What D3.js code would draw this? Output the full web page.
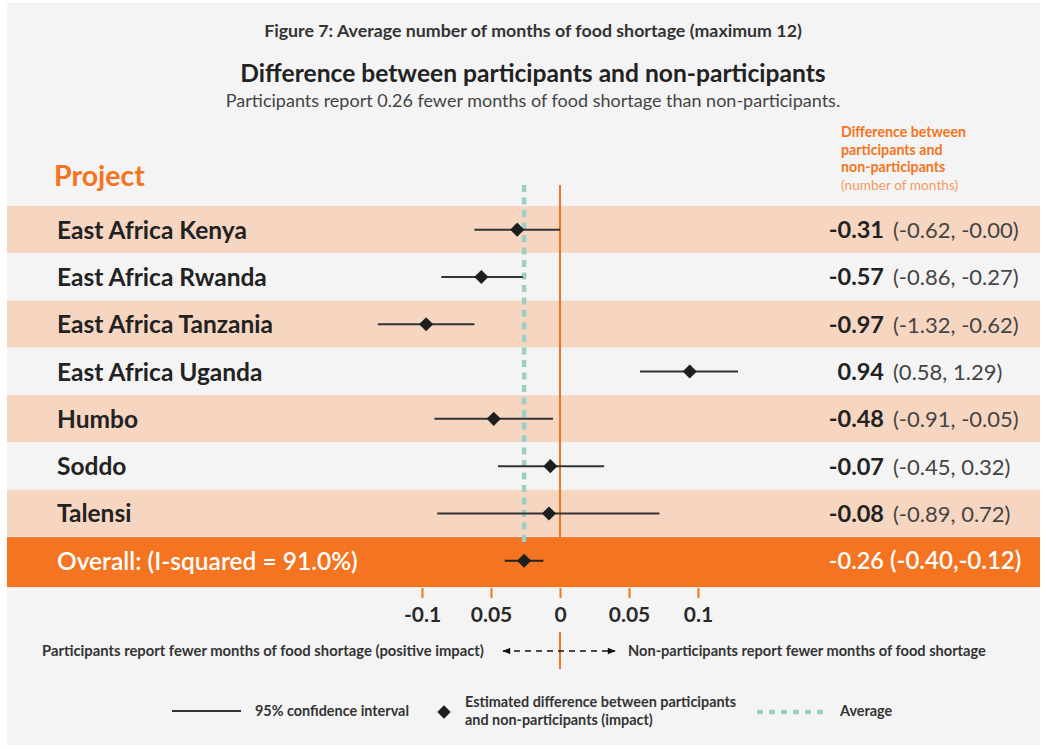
<!DOCTYPE html>
<html>
<head>
<meta charset="utf-8">
<script src="https://cdn.jsdelivr.net/npm/d3@7"></script>
<style>
  html, body { margin: 0; padding: 0; background: #ffffff; }
  svg { display: block; font-family: "Lato", "Open Sans", sans-serif; }
</style>
</head>
<body>
<svg id="chart" width="1046" height="749"></svg>
<script>
// Forest plot data: difference in months of food shortage (participants minus non-participants)
const projects  = ["East Africa Kenya", "East Africa Rwanda", "East Africa Tanzania", "East Africa Uganda", "Humbo", "Soddo", "Talensi"];
const estimates = [-0.31, -0.57, -0.97, 0.94, -0.48, -0.07, -0.08];
const lowerCI   = [-0.62, -0.86, -1.32, 0.58, -0.91, -0.45, -0.89];
const upperCI   = [-0.00, -0.27, -0.62, 1.29, -0.05, 0.32, 0.72];

const overallLabel = "Overall: (I-squared = 91.0%)";
const overallEstimate = -0.26;
const overallLower = -0.40;
const overallUpper = -0.12;

const tickValues = [-1, -0.5, 0, 0.5, 1];
const tickLabels = ["-0.1", "0.05", "0", "0.05", "0.1"];

const ORANGE = "#f47421";
const PEACH = "#f6d6c0";
const PANEL = "#f4f4f4";
const TEAL = "#9ccfc3";
const INK = "#222222";

const svg = d3.select("#chart");

// number formatting with a plain hyphen (keeps "-0.00")
const fmt = v => ((v < 0 || Object.is(v, -0)) ? "-" : "") + Math.abs(v).toFixed(2);

const x = d3.scaleLinear().domain([-1, 1]).range([422, 698]);
const rowKeys = projects.concat([overallLabel]);
const y = d3.scaleBand().domain(rowKeys).range([206, 206 + 47.3 * rowKeys.length]).paddingInner(0);

// panel
svg.append("rect").attr("x", 7).attr("y", 3).attr("width", 1033).attr("height", 742).attr("fill", PANEL);

// titles
svg.append("text").attr("x", 533).attr("y", 37).attr("text-anchor", "middle")
  .attr("font-size", 17.8).attr("font-weight", 700).attr("fill", "#333")
  .text("Figure 7: Average number of months of food shortage (maximum 12)");
svg.append("text").attr("x", 533).attr("y", 82).attr("text-anchor", "middle")
  .attr("font-size", 24.6).attr("font-weight", 700).attr("fill", "#222")
  .text("Difference between participants and non-participants");
svg.append("text").attr("x", 533).attr("y", 107).attr("text-anchor", "middle")
  .attr("font-size", 18).attr("fill", "#444")
  .text("Participants report 0.26 fewer months of food shortage than non-participants.");

// column headers
svg.append("text").attr("x", 54).attr("y", 186).attr("font-size", 28.5).attr("font-weight", 700)
  .attr("fill", ORANGE).text("Project");
const hdr = svg.append("text").attr("x", 841).attr("y", 137).attr("font-size", 14.2).attr("font-weight", 700).attr("fill", ORANGE);
["Difference between", "participants and", "non-participants"].forEach((t, i) => {
  hdr.append("tspan").attr("x", 841).attr("dy", i === 0 ? 0 : 17.7).text(t);
});
svg.append("text").attr("x", 841).attr("y", 190).attr("font-size", 13.7).attr("fill", "#f39a62")
  .text("(number of months)");

// alternating row bands
svg.append("g").selectAll("rect")
  .data(projects.filter((d, i) => i % 2 === 0))
  .join("rect")
  .attr("x", 7).attr("width", 1033)
  .attr("y", d => y(d)).attr("height", y.bandwidth() - 0.5)
  .attr("fill", PEACH);

// overall band
svg.append("rect").attr("x", 7).attr("width", 1033)
  .attr("y", y(overallLabel)).attr("height", 50).attr("fill", ORANGE);

// zero reference line
svg.append("line").attr("x1", x(0)).attr("x2", x(0)).attr("y1", 185).attr("y2", y(overallLabel))
  .attr("stroke", ORANGE).attr("stroke-width", 2);

// average line
const yOverall = y(overallLabel) + y.bandwidth() / 2;
svg.append("line").attr("x1", x(overallEstimate)).attr("x2", x(overallEstimate))
  .attr("y1", 185).attr("y2", yOverall - 14)
  .attr("stroke", TEAL).attr("stroke-width", 4.5).attr("stroke-dasharray", "7,5.5");

// confidence intervals and estimates
const rows = projects.map((p, i) => ({ name: p, est: estimates[i], lo: lowerCI[i], hi: upperCI[i] }));
const g = svg.append("g");
g.selectAll("line.ci").data(rows).join("line").attr("class", "ci")
  .attr("x1", d => x(d.lo)).attr("x2", d => x(d.hi))
  .attr("y1", d => y(d.name) + y.bandwidth() / 2).attr("y2", d => y(d.name) + y.bandwidth() / 2)
  .attr("stroke", "#333").attr("stroke-width", 2);
const diamond = d3.symbol().type(d3.symbolSquare).size(100);
g.selectAll("path.est").data(rows).join("path").attr("class", "est")
  .attr("d", diamond)
  .attr("transform", d => `translate(${x(d.est)},${y(d.name) + y.bandwidth() / 2}) rotate(45)`)
  .attr("fill", "#1e1e1e");

svg.append("line").attr("x1", x(overallLower)).attr("x2", x(overallUpper))
  .attr("y1", yOverall).attr("y2", yOverall).attr("stroke", "#222").attr("stroke-width", 2);
svg.append("path").attr("d", diamond)
  .attr("transform", `translate(${x(overallEstimate)},${yOverall}) rotate(45)`).attr("fill", "#1e1e1e");

// row labels
svg.append("g").selectAll("text").data(projects).join("text")
  .attr("x", 57).attr("y", d => y(d) + y.bandwidth() / 2 + 9)
  .attr("font-size", 24.5).attr("font-weight", 700).attr("fill", INK).text(d => d);
svg.append("text").attr("x", 57).attr("y", yOverall + 9)
  .attr("font-size", 24.5).attr("font-weight", 600).attr("fill", "#fff").text(overallLabel);

// value column
const vals = svg.append("g");
vals.selectAll("text.est").data(rows).join("text").attr("class", "est")
  .attr("x", 884).attr("y", d => y(d.name) + y.bandwidth() / 2 + 8.5).attr("text-anchor", "end")
  .attr("font-size", 23.5).attr("font-weight", 700).attr("fill", INK).text(d => fmt(d.est));
vals.selectAll("text.ci").data(rows).join("text").attr("class", "ci")
  .attr("x", 893).attr("y", d => y(d.name) + y.bandwidth() / 2 + 8.5)
  .attr("font-size", 22).attr("fill", "#444").text(d => `(${fmt(d.lo)}, ${fmt(d.hi)})`);
svg.append("text").attr("x", 884).attr("y", yOverall + 8.5).attr("text-anchor", "end")
  .attr("font-size", 23.5).attr("font-weight", 600).attr("fill", "#fff").text(fmt(overallEstimate));
svg.append("text").attr("x", 890).attr("y", yOverall + 8.5)
  .attr("font-size", 24).attr("font-weight", 600).attr("fill", "#fff")
  .text(`(${fmt(overallLower)},${fmt(overallUpper)})`);

// x axis
const axisY = y(overallLabel) + 51;
const axis = svg.append("g").attr("transform", `translate(0,${axisY})`)
  .call(d3.axisBottom(x).tickValues(tickValues).tickSize(10).tickPadding(9)
    .tickFormat((d, i) => tickLabels[i]));
axis.select(".domain").remove();
axis.selectAll(".tick line").attr("stroke", ORANGE).attr("stroke-width", 2);
axis.selectAll(".tick text").attr("font-family", "Lato, sans-serif").attr("font-size", 21)
  .attr("font-weight", 700).attr("fill", "#2a2a2a");

// direction annotation
svg.append("line").attr("x1", x(0)).attr("x2", x(0)).attr("y1", 632).attr("y2", 669)
  .attr("stroke", ORANGE).attr("stroke-width", 2);
const defs = svg.append("defs");
defs.append("marker").attr("id", "arrow").attr("viewBox", "0 0 10 10").attr("refX", 9).attr("refY", 5)
  .attr("markerWidth", 10).attr("markerHeight", 8).attr("markerUnits", "userSpaceOnUse").attr("orient", "auto-start-reverse")
  .append("path").attr("d", "M0,1 L10,5 L0,9 Z").attr("fill", "#111");
svg.append("line").attr("x1", 503).attr("x2", 615).attr("y1", 651).attr("y2", 651)
  .attr("stroke", "#111").attr("stroke-width", 1.6).attr("stroke-dasharray", "6,5")
  .attr("marker-start", "url(#arrow)").attr("marker-end", "url(#arrow)");
svg.append("text").attr("x", 42).attr("y", 656).attr("font-size", 14.8).attr("font-weight", 700).attr("fill", "#333")
  .text("Participants report fewer months of food shortage (positive impact)");
svg.append("text").attr("x", 628).attr("y", 656).attr("font-size", 14.6).attr("font-weight", 700).attr("fill", "#333")
  .text("Non-participants report fewer months of food shortage");

// legend
const lg = svg.append("g").attr("font-size", 14.4).attr("font-weight", 700).attr("fill", "#333");
lg.append("line").attr("x1", 172).attr("x2", 241).attr("y1", 711).attr("y2", 711).attr("stroke", "#333").attr("stroke-width", 2);
lg.append("text").attr("x", 255).attr("y", 716).text("95% confidence interval");
lg.append("path").attr("d", d3.symbol().type(d3.symbolSquare).size(90))
  .attr("transform", "translate(444,712) rotate(45)").attr("fill", "#1e1e1e");
lg.append("text").attr("x", 465).attr("y", 707).text("Estimated difference between participants");
lg.append("text").attr("x", 465).attr("y", 725).text("and non-participants (impact)");
lg.append("line").attr("x1", 757).attr("x2", 828).attr("y1", 712).attr("y2", 712)
  .attr("stroke", TEAL).attr("stroke-width", 4.5).attr("stroke-dasharray", "6,6");
lg.append("text").attr("x", 840).attr("y", 716).text("Average");
</script>
</body>
</html>
